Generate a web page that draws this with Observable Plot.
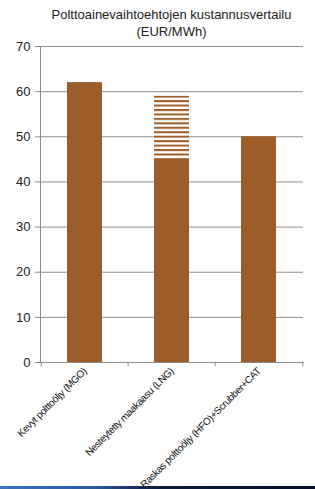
<!DOCTYPE html>
<html>
<head>
<meta charset="utf-8">
<script src="https://cdn.jsdelivr.net/npm/d3@7"></script>
<script src="https://cdn.jsdelivr.net/npm/@observablehq/plot@0.6"></script>
<style>
  html, body { margin: 0; padding: 0; background: #fff; }
  body { width: 315px; height: 489px; position: relative; overflow: hidden; font-family: "Liberation Sans", Arial, sans-serif; }
  #title { position: absolute; left: 40px; width: 263px; top: 6px; text-align: center; font-size: 13px; line-height: 17px; color: #222; }
  #chart { position: absolute; left: 0; top: 40px; }
  #band { position: absolute; left: 0; bottom: 0; width: 315px; height: 3px; background: linear-gradient(to right, #3d74b8 0%, #2a5a9a 30%, #0b1a3e 50%, #050d26 100%); z-index: 5; }
</style>
</head>
<body>
<div id="title">Polttoainevaihtoehtojen kustannusvertailu<br>(EUR/MWh)</div>
<div id="chart"></div>
<div id="band"></div>
<script>
const categories = ["Kevyt polttoöljy (MGO)", "Nesteytetty maakaasu (LNG)", "Raskas polttoöljy (HFO)+Scrubber+CAT"];
const baseValues = [62, 45, 50];
const rangeValues = [0, 14, 0];
const yTicks = [0, 10, 20, 30, 40, 50, 60, 70];

const brown = "#9e5d28";
const data = categories.map((c, i) => ({cat: c, base: baseValues[i], top: baseValues[i] + rangeValues[i]}));
const extra = data.filter(d => d.top > d.base);

const W = 315, H = 449, mL = 40, mR = 12, mT = 6, mB = 127;
const step = (W - mL - mR) / categories.length;

const plot = Plot.plot({
  width: W, height: H,
  marginLeft: mL, marginRight: mR, marginTop: mT, marginBottom: mB,
  style: {fontFamily: "'Liberation Sans', Arial, sans-serif", color: "#222", background: "#fff"},
  x: {domain: categories, padding: 0},
  y: {domain: [0, 70]},
  marks: [
    Plot.gridY(yTicks, {stroke: "#8c8c8c", strokeOpacity: 1}),
    Plot.barY(data, {x: "cat", y: "base", fill: brown, insetLeft: 26, insetRight: 26}),
    Plot.barY(extra, {x: "cat", y1: "base", y2: "top", fill: "url(#hatch)", insetLeft: 26, insetRight: 26}),
    Plot.frame({anchor: "left", stroke: "#8c8c8c"}),
    Plot.frame({anchor: "bottom", stroke: "#8c8c8c"}),
    Plot.ruleX(categories, {x: d => d, y1: 0, y2: -0.95, dx: -step / 2, stroke: "#8c8c8c"}),
    Plot.ruleX(categories.slice(-1), {x: d => d, y1: 0, y2: -0.95, dx: step / 2, stroke: "#8c8c8c"}),
    Plot.axisY(yTicks, {tickSize: 5, tickPadding: 5, fontSize: 13, stroke: "#8c8c8c", label: null, fill: "#222"}),
    Plot.axisX({tickSize: 0, tickRotate: -45, tickPadding: 7, fontSize: 10, label: null, fill: "#111", textAnchor: "end"})
  ]
});

// hatch pattern for the LNG range segment, aligned to the top of the segment
const yScale = plot.scale("y");
const svg = d3.select(plot);
const pat = svg.insert("defs", ":first-child")
  .append("pattern")
  .attr("id", "hatch")
  .attr("patternUnits", "userSpaceOnUse")
  .attr("x", 0)
  .attr("y", yScale.apply(extra[0].top))
  .attr("width", 10)
  .attr("height", 4.45);
pat.append("rect").attr("width", 10).attr("height", 4.45).attr("fill", "#fff");
pat.append("rect").attr("width", 10).attr("height", 2).attr("fill", brown);

svg.selectAll("g[aria-label='x-axis tick label'] text").style("letter-spacing", "-0.35px");

document.getElementById("chart").appendChild(plot);
</script>
</body>
</html>
